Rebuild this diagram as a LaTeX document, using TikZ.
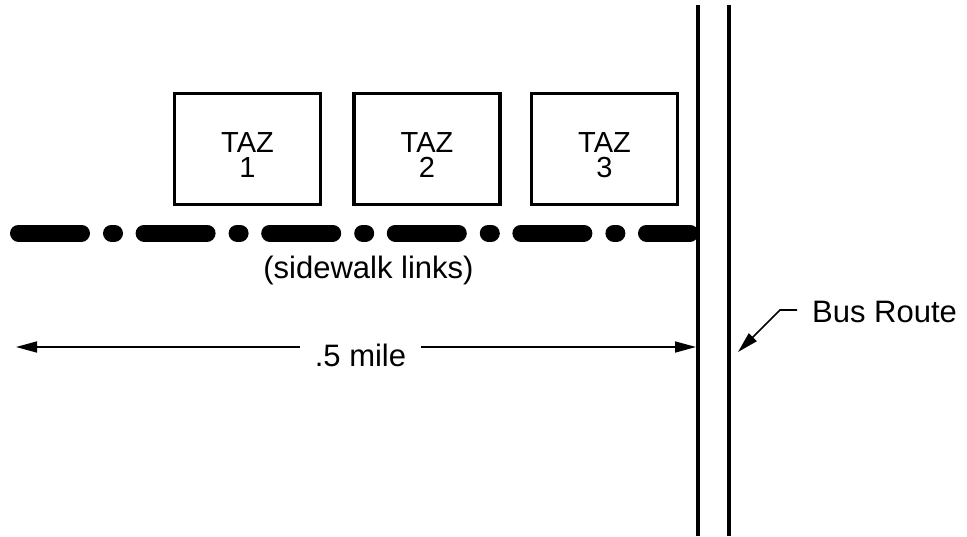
\documentclass[tikz,border=0pt]{standalone}
\usepackage{fontspec}
\setmainfont{Liberation Sans}
\usetikzlibrary{arrows.meta}
\begin{document}
\begin{tikzpicture}[x=1pt,y=-1pt,
 tazbox/.style={draw, line width=3.5pt, minimum width=146pt, minimum height=111pt, inner sep=0pt},
 taztext/.style={anchor=base, font=\fontsize{29}{30}\selectfont, inner sep=0pt},
 lbl/.style={font=\fontsize{31}{36}\selectfont, inner sep=0pt},
 road/.style={line width=4.5pt},
 walk/.style={line width=17pt, line cap=round, dash pattern=on 63pt off 30pt on 3pt off 29.6pt},
 dim/.style={line width=1.6pt},
 tip/.style={-{Triangle[length=21pt,width=11pt]}}
]
\useasboundingbox (0,0) rectangle (967,536);
% TAZ boxes
\node[tazbox] (b1) at (247.5,149) {};
\node[tazbox] (b2) at (427,149) {};
\node[tazbox] (b3) at (604.5,149) {};
\node[taztext] (t1) at (247.5,152) {TAZ};
\node[taztext] (n1) at (247.5,177) {1};
\node[taztext] (t2) at (427,152) {TAZ};
\node[taztext] (n2) at (427,177) {2};
\node[taztext] (t3) at (604.5,152) {TAZ};
\node[taztext] (n3) at (604.5,177) {3};
% sidewalk
\coordinate (w0) at (18.5,233);
\coordinate (w1) at (690,233);
\draw[walk] (w0) -- (w1);
\node[lbl, anchor=base] (sw) at (368.5,278) {(sidewalk links)};
% bus route lines
\coordinate (r1t) at (698,5);
\coordinate (r1b) at (698,536);
\coordinate (r2t) at (729,5);
\coordinate (r2b) at (729,536);
\draw[road] (r1t) -- (r1b);
\draw[road] (r2t) -- (r2b);
% dimension
\coordinate (dL) at (16,347);
\coordinate (dR) at (696,347);
\node[lbl, anchor=base, inner xsep=15pt] (mile) at (360.5,366) {.5 mile};
\draw[dim,tip] (mile.west |- dL) -- (dL);
\draw[dim,tip] (mile.east |- dR) -- (dR);
% bus route label
\node[lbl, anchor=base west] (bus) at (812,322) {Bus Route};
\coordinate (bs) at (797,310);
\coordinate (bk) at (780,310);
\coordinate (bt) at (738,352);
\draw[dim,tip] (bs) -- (bk) -- (bt);
\end{tikzpicture}
\end{document}
